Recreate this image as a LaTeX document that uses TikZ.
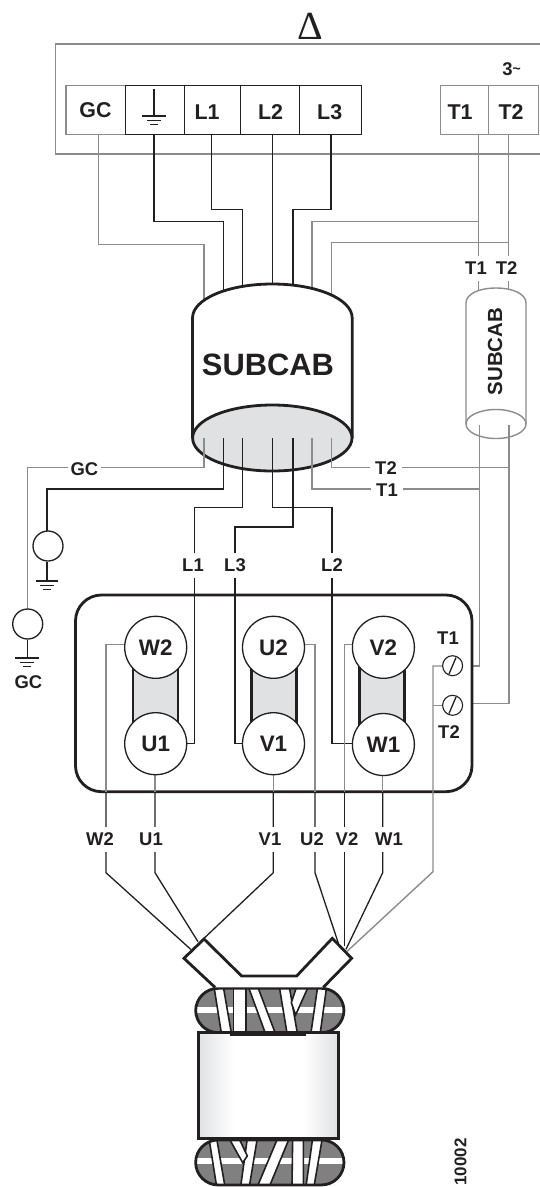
\documentclass[tikz,border=0pt]{standalone}
\usepackage{fontspec}
\setmainfont{Liberation Sans}
\newfontfamily\serifdelta{Liberation Serif}
\definecolor{ink}{HTML}{231F20}
\definecolor{wiregray}{HTML}{8C8C8C}
\definecolor{panelgray}{HTML}{E0E1E3}
\definecolor{coilgray}{HTML}{808080}
\newcommand{\bfsize}[1]{\fontsize{#1}{#1}\selectfont\bfseries}
\newcommand{\gndmark}[3]{%
  \draw[blackwire] (#1-#3,#2) -- (#1+#3,#2);
  \draw[blackwire] (#1-0.62*#3,#2+4.3) -- (#1+0.62*#3,#2+4.3);
  \draw[blackwire] (#1-0.33*#3,#2+8.6) -- (#1+0.33*#3,#2+8.6);}
\tikzset{
  blackwire/.style={draw=ink,line width=1.3bp},
  graywire/.style={draw=wiregray,line width=1.4bp},
  termblack/.style={draw=ink,line width=1.3bp,rectangle,inner sep=0},
  termgray/.style={draw=wiregray,line width=1.4bp,rectangle,inner sep=0},
  termtext/.style={text=ink,font=\bfsize{21.5},inner sep=0},
  wlabel/.style={fill=white,text=ink,font=\bfsize{18.5},inner xsep=3bp,inner ysep=0,minimum height=25bp},
  plainlabel/.style={text=ink,font=\bfsize{18.5},inner sep=0},
  post/.style={circle,draw=ink,fill=white,line width=1.3bp,minimum size=62bp,inner sep=0,text=ink,font=\bfsize{22.5}},
  groundring/.style={circle,draw=ink,fill=white,line width=1.3bp,minimum size=30bp,inner sep=0},
  screw/.style={circle,draw=ink,fill=white,line width=1.1bp,minimum size=20bp,inner sep=0},
  heavy/.style={draw=ink,line width=2.8bp},
  coilstrand/.style={fill=white,draw=ink,line width=1.6bp},
}
\begin{document}
\begin{tikzpicture}[x=1bp,y=-1bp,line join=miter]
\useasboundingbox (0,0) rectangle (540,1187);
\fill[white] (0,0) rectangle (540,1187);

% outer frame
\draw[graywire] (540,44) -- (55.7,44) -- (55.7,154) -- (540,154);
\node[text=ink,font={\fontsize{40}{40}\selectfont\serifdelta},inner sep=0,anchor=base] (delta) at (310.7,39.5) {Δ};
\node[plainlabel,font=\bfsize{18.5}] (three) at (511.5,69) {3\raisebox{2bp}{\fontsize{14}{14}\selectfont\textasciitilde}};

% terminal strip
\node[termgray,minimum width=59.7bp,minimum height=48.6bp] (GCbox) at (95.8,110) {};
\node[termgray,minimum width=48bp,minimum height=48.6bp] (T1box) at (464.7,110) {};
\node[termgray,minimum width=49.6bp,minimum height=48.6bp] (T2box) at (513.5,110) {};
\node[termblack,minimum width=58.6bp,minimum height=48.6bp] (Gbox) at (155,110) {};
\node[termblack,minimum width=56.4bp,minimum height=48.6bp] (L1box) at (212.5,110) {};
\node[termblack,minimum width=58.6bp,minimum height=48.6bp] (L2box) at (270,110) {};
\node[termblack,minimum width=62bp,minimum height=48.6bp] (L3box) at (330.3,110) {};
\node[termtext] (tGC) at (95.5,110.5) {GC};
\node[termtext] (tL1) at (207,112) {L1};
\node[termtext] (tL2) at (270.5,112) {L2};
\node[termtext] (tL3) at (329.7,112) {L3};
\node[termtext] (tT1) at (460,112) {T1};
\node[termtext] (tT2) at (511,112) {T2};
\draw[blackwire] (154,89) -- (154,116);
\gndmark{154}{116}{12}

% wires above big cylinder
\coordinate (cGC) at (204,300);
\coordinate (cG) at (223.5,300);
\coordinate (cL1) at (242.5,300);
\coordinate (cL2) at (272.5,300);
\coordinate (cL3) at (293,300);
\coordinate (cT1) at (312,300);
\coordinate (cT2) at (331.5,300);
\draw[graywire] (GCbox.south -| 98.3,0) -- (98.3,244.7) -- (204,244.7) -- (cGC);
\draw[blackwire] (Gbox.south -| 154,0) -- (154,221.3) -- (223.5,221.3) -- (cG);
\draw[blackwire] (L1box.south -| 211.7,0) -- (211.7,209.7) -- (242.5,209.7) -- (cL1);
\draw[blackwire] (L2box.south -| cL2) -- (cL2);
\draw[blackwire] (L3box.south -| 331,0) -- (331,209.7) -- (293,209.7) -- (cL3);
\draw[graywire] (T1box.south -| 478.5,0) -- (478.5,300);
\draw[graywire] (T2box.south -| 508.5,0) -- (508.5,300);
\draw[graywire] (478.5,221.3) -- (312,221.3) -- (cT1);
\draw[graywire] (508.5,242.7) -- (331.5,242.7) -- (cT2);

% big cylinder
\draw[heavy,fill=white] (192.5,438) -- (192.5,318) .. controls (192.5,299) and (228,284) .. (272.3,284) .. controls (316.6,284) and (352.2,299) .. (352.2,318) -- (352.2,438);
\draw[heavy,fill=panelgray] (272.3,438) ellipse [x radius=79.7,y radius=33];
\node[text=ink,font=\bfsize{31},inner sep=0] (bigcab) at (268,365) {SUBCAB};

% small cylinder
\draw[graywire,fill=white] (466,424) -- (466,303) .. controls (466,294) and (479,288) .. (496,288) .. controls (513,288) and (526,294) .. (526,303) -- (526,424);
\draw[graywire,fill=white] (496,424) ellipse [x radius=30,y radius=14.5];
\node[rotate=90,text=ink,font=\bfsize{20.5},inner sep=0] (smallcab) at (495,351.5) {SUBCAB};

% wires below cylinders
\draw[graywire] (204,438) -- (204,467.7) -- (27.5,467.7) -- (27.5,609);
\draw[blackwire] (223.5,438) -- (223.5,489) -- (47,489) -- (47,531);
\draw[graywire] (312,438) -- (312,489) -- (479.5,489);
\draw[graywire] (331.5,438) -- (331.5,467.7) -- (509,467.7);
\draw[graywire] (479.5,425) -- (479.5,666) -- (463,666);
\draw[graywire] (509,425) -- (509,703.7) -- (463,703.7);

% ground rings
\node[groundring] (ring1) at (48,546) {};
\node[groundring] (ring2) at (27.7,624) {};
\draw[blackwire] (ring1.south -| 47,0) -- (47,581);
\gndmark{47}{581}{11}
\draw[blackwire] (ring2.south) -- (27.7,658);
\gndmark{27}{658}{12}
\node[plainlabel] (gclow) at (28.4,682) {GC};

% motor terminal box
\draw[heavy,fill=white,rounded corners=26bp] (75.5,595) rectangle (472,791.7);
\foreach \xa/\xb in {133/178,251.5/296.5,359.5/404.5}{
  \fill[panelgray] (\xa,665) rectangle (\xb,725);
  \draw[heavy] (\xa,655) -- (\xa,735);
  \draw[heavy] (\xb,655) -- (\xb,735);
}
% line wires to the posts
\draw[blackwire] (242.5,438) -- (242.5,507.7) -- (194.5,507.7) -- (194.5,743.7) -- (180,743.7);
\draw[blackwire] (272.5,438) -- (272.5,507.7) -- (332,507.7) -- (332,743.7) -- (360,743.7);
\draw[blackwire] (293,438) -- (293,527) -- (235,527) -- (235,743.7) -- (250,743.7);

% leads
\draw[blackwire] (106,791.7) -- (106,872.7) -- (190.7,949.3);
\draw[blackwire] (155,791.7) -- (155,872.7) -- (198,941.7);
\draw[blackwire] (273.3,791.7) -- (273.3,872.7) -- (204,938.3);
\draw[blackwire] (315,791.7) -- (315,872.7) -- (338.3,943);
\draw[blackwire] (344.6,791.7) -- (344.6,946);
\draw[blackwire] (382.7,791.7) -- (382.7,872.7) -- (346,949.3);
\draw[graywire] (125,644.7) -- (106,644.7) -- (106,791.7);
\draw[graywire] (155,770) -- (155,791.7);
\draw[graywire] (273.3,770) -- (273.3,791.7);
\draw[graywire] (300,644.7) -- (315,644.7) -- (315,791.7);
\draw[graywire] (360,644.7) -- (344.6,644.7) -- (344.6,791.7);
\draw[graywire] (382.7,770) -- (382.7,791.7);
\draw[graywire] (445,666) -- (433,666) -- (433,871.7) -- (346.7,951.7);
\draw[graywire] (433,705.5) -- (445,705.5);

% posts
\node[post] (W2) at (155.7,647.3) {W2};
\node[post] (U1) at (155.7,743.7) {U1};
\node[post] (U2) at (273.5,647.3) {U2};
\node[post] (V1) at (273.5,743.7) {V1};
\node[post] (V2) at (383.4,647.3) {V2};
\node[post] (W1) at (383.4,744.5) {W1};

% screws
\node[screw] (S1) at (452.6,665.7) {};
\node[screw] (S2) at (452.6,705.3) {};
\draw[blackwire] (449,674) -- (456,657.5);
\draw[blackwire] (449,713.5) -- (456,697);
\node[plainlabel] (lT1m) at (448,637.7) {T1};
\node[plainlabel] (lT2m) at (449,731.7) {T2};

% wire labels
\node[wlabel] (lT1a) at (476,268) {T1};
\node[wlabel] (lT2a) at (506.7,268) {T2};
\node[wlabel] (lGC) at (84.4,469) {GC};
\node[wlabel,minimum height=18bp,inner xsep=5bp] (lT2h) at (386,467.7) {T2};
\node[wlabel,minimum height=18bp,inner xsep=5bp] (lT1h) at (387,490.5) {T1};
\node[wlabel] (lL1) at (193,565) {L1};
\node[wlabel] (lL3) at (235,565) {L3};
\node[wlabel] (lL2) at (332,565) {L2};
\node[wlabel] (lW2) at (100,839) {W2};
\node[wlabel] (lU1) at (151,839) {U1};
\node[wlabel] (lV1) at (270,839) {V1};
\node[wlabel] (lU2) at (312,839) {U2};
\node[wlabel] (lV2) at (347,839) {V2};
\node[wlabel] (lW1) at (389,839) {W1};

% stator
\begin{scope}[shift={(130,860)},x=0.3333bp,y=-0.3333bp]
  % top coil
  \begin{scope}
    \path[clip,rounded corners=22.5bp] (197,385) rectangle (642,518);
    \fill[coilgray] (197,385) rectangle (642,518);
    \fill[white] (197,440) rectangle (642,460);
    \foreach \a/\b/\c/\d in {252/280/305/275,355/383/438/408,448/478/503/472,563/590/570/542}
      \draw[coilstrand] (\a,380) -- (\b,380) -- (\c,525) -- (\d,525) -- cycle;
    \draw[coilstrand] (310,380) rectangle (348,525);
    \draw[coilstrand] (500,380) -- (535,380) -- (497,465) -- (484,428) -- cycle;
  \end{scope}
  \draw[heavy,rounded corners=22.5bp] (197,385) rectangle (642,518);
  % bottom coil
  \begin{scope}
    \path[clip,rounded corners=22.5bp] (197,840) rectangle (642,975);
    \fill[coilgray] (197,840) rectangle (642,975);
    \fill[white] (197,893) rectangle (642,913);
    \foreach \a/\b/\c/\d in {237/260/285/260,352/382/358/332,443/478/418/382,488/520/520/486,548/577/552/528}
      \draw[coilstrand] (\a,835) -- (\b,835) -- (\c,980) -- (\d,980) -- cycle;
    \draw[coilstrand] (297,835) -- (327,835) -- (352,888) -- (338,908) -- cycle;
  \end{scope}
  \draw[heavy,rounded corners=22.5bp] (197,840) rectangle (642,975);
  % connector collar
  \draw[heavy,fill=white] (255,382) -- (162,295) -- (222,237) -- (335,348) -- (500,348) -- (607,235) -- (665,295) -- (580,382);
  % iron core
  \shade[left color=panelgray,right color=white] (205,518) rectangle (310,835);
  \shade[right color=panelgray,left color=white] (520,518) rectangle (625,835);
  \fill[white] (310,518) rectangle (520,835);
  \draw[heavy] (205,518) rectangle (625,835);
  \draw[draw=ink,line width=4bp] (300,523) -- (528,523);
\end{scope}

\node[rotate=90,text=ink,font=\bfsize{17},inner sep=0] (code) at (460.5,1162) {10002};
\end{tikzpicture}
\end{document}
